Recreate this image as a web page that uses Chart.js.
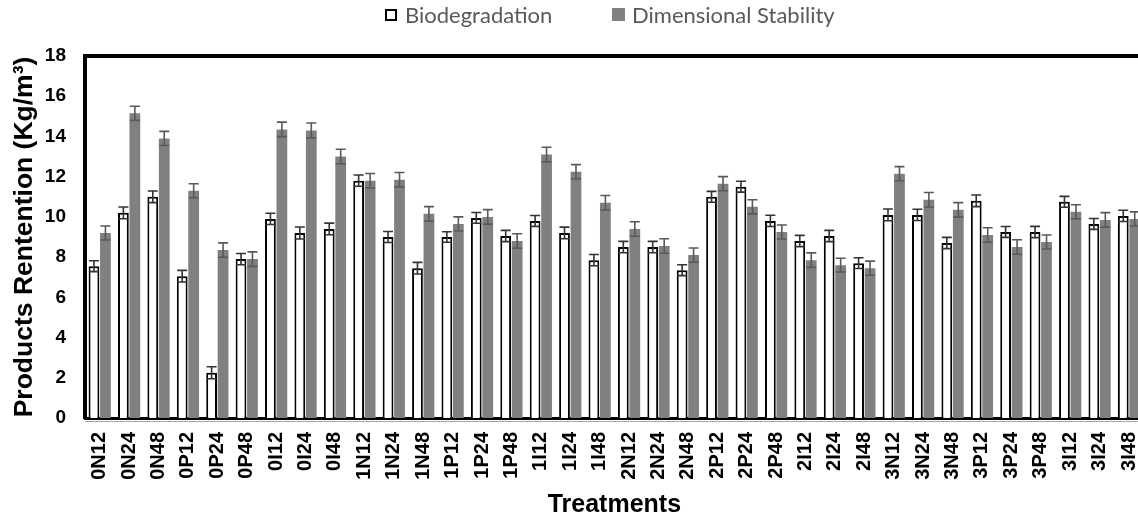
<!DOCTYPE html>
<html>
<head>
<meta charset="utf-8">
<script src="https://cdn.jsdelivr.net/npm/chart.js@4.4.1/dist/chart.umd.min.js"></script>
<style>
  html, body { margin: 0; padding: 0; background: #fff; overflow: hidden; }
  #wrap { position: relative; width: 1138px; height: 516px; overflow: hidden; }
  #legend { position: absolute; top: 0; left: 0; width: 100%; height: 30px; font-family: Lato, "Open Sans", sans-serif; font-size: 22px; color: #595959; }
  #legend .item { position: absolute; top: 1px; display: flex; align-items: center; white-space: nowrap; }
  #legend .box { display: inline-block; box-sizing: border-box; margin-right: 8px; }
</style>
</head>
<body>
<div id="wrap">
  <canvas id="chart" width="1167" height="516"></canvas>
  <div id="legend">
    <span class="item" style="left:385px"><span class="box" style="width:12px;height:12px;border:2px solid #000;background:#fff"></span>Biodegradation</span>
    <span class="item" style="left:612px"><span class="box" style="width:13px;height:13px;background:#808080;margin-right:7px"></span>Dimensional Stability</span>
  </div>
</div>
<script>
const $ = (id) => document.getElementById(id);

const treatments = [
  '0N12', '0N24', '0N48', '0P12', '0P24', '0P48', '0I12', '0I24', '0I48',
  '1N12', '1N24', '1N48', '1P12', '1P24', '1P48', '1I12', '1I24', '1I48',
  '2N12', '2N24', '2N48', '2P12', '2P24', '2P48', '2I12', '2I24', '2I48',
  '3N12', '3N24', '3N48', '3P12', '3P24', '3P48', '3I12', '3I24', '3I48'
];

const biodegradation = [
  7.55, 10.2, 11.0, 7.05, 2.25, 7.9, 9.9, 9.2, 9.4,
  11.8, 9.0, 7.45, 9.0, 9.95, 9.05, 9.8, 9.2, 7.85,
  8.5, 8.5, 7.35, 11.0, 11.5, 9.8, 8.8, 9.05, 7.7,
  10.1, 10.1, 8.7, 10.8, 9.25, 9.25, 10.75, 9.65, 10.05
];
const biodegradationErr = [
  0.27, 0.29, 0.29, 0.29, 0.30, 0.28, 0.28, 0.30, 0.29,
  0.28, 0.27, 0.29, 0.26, 0.27, 0.28, 0.27, 0.29, 0.28,
  0.28, 0.28, 0.27, 0.27, 0.27, 0.28, 0.28, 0.28, 0.27,
  0.29, 0.28, 0.28, 0.29, 0.27, 0.28, 0.27, 0.27, 0.28
];

const dimensional = [
  9.2, 15.15, 13.9, 11.3, 8.35, 7.9, 14.35, 14.3, 13.0,
  11.8, 11.85, 10.15, 9.65, 10.0, 8.8, 13.1, 12.25, 10.7,
  9.4, 8.55, 8.1, 11.65, 10.5, 9.25, 7.85, 7.6, 7.45,
  12.15, 10.85, 10.35, 9.1, 8.5, 8.75, 10.25, 9.85, 9.9
];
const dimensionalErr = [
  0.35, 0.35, 0.35, 0.35, 0.36, 0.36, 0.36, 0.37, 0.36,
  0.36, 0.36, 0.36, 0.35, 0.36, 0.36, 0.36, 0.35, 0.36,
  0.36, 0.36, 0.35, 0.35, 0.35, 0.35, 0.36, 0.34, 0.35,
  0.35, 0.36, 0.36, 0.36, 0.36, 0.35, 0.35, 0.36, 0.35
];

const yTicks = [0, 2, 4, 6, 8, 10, 12, 14, 16, 18];

const FONT = '"Liberation Sans", Arial, sans-serif';

// error bars: +/- err around each bar top, with caps
const errorBars = {
  id: 'errorBars',
  afterDatasetsDraw(chart) {
    const ctx = chart.ctx;
    const y = chart.scales.y;
    chart.data.datasets.forEach((ds, i) => {
      if (!ds.errors) return;
      const meta = chart.getDatasetMeta(i);
      ctx.save();
      ctx.strokeStyle = ds.errorColor;
      ctx.lineWidth = 1.6;
      meta.data.forEach((bar, j) => {
        const v = ds.data[j];
        const e = ds.errors[j];
        const top = y.getPixelForValue(v + e);
        const bot = y.getPixelForValue(v - e);
        const half = 5;
        ctx.beginPath();
        ctx.moveTo(bar.x, top);
        ctx.lineTo(bar.x, bot);
        ctx.moveTo(bar.x - half, top);
        ctx.lineTo(bar.x + half, top);
        ctx.moveTo(bar.x - half, bot);
        ctx.lineTo(bar.x + half, bot);
        ctx.stroke();
      });
      ctx.restore();
    });
  }
};

// thick frame on top of the plot area plus the thin grey rule under the axis
const plotFrame = {
  id: 'plotFrame',
  afterDraw(chart) {
    const { ctx, chartArea: a } = chart;
    ctx.save();
    ctx.strokeStyle = '#000';
    ctx.lineWidth = 4;
    ctx.beginPath();
    ctx.moveTo(a.left - 2, a.top);
    ctx.lineTo(a.right + 4, a.top);
    ctx.stroke();
    ctx.strokeStyle = '#a6a6a6';
    ctx.lineWidth = 1;
    ctx.beginPath();
    ctx.moveTo(a.left, a.bottom + 3.5);
    ctx.lineTo(a.right + 4, a.bottom + 3.5);
    ctx.stroke();
    ctx.restore();
  }
};

new Chart($('chart').getContext('2d'), {
  type: 'bar',
  data: {
    labels: treatments,
    datasets: [
      {
        label: 'Biodegradation',
        data: biodegradation,
        errors: biodegradationErr,
        errorColor: '#333333',
        backgroundColor: '#ffffff',
        borderColor: '#000000',
        borderWidth: 2,
        categoryPercentage: 0.78,
        barPercentage: 0.94
      },
      {
        label: 'Dimensional Stability',
        data: dimensional,
        errors: dimensionalErr,
        errorColor: '#595959',
        backgroundColor: '#808080',
        borderWidth: 0,
        categoryPercentage: 0.78,
        barPercentage: 0.94
      }
    ]
  },
  options: {
    responsive: false,
    animation: false,
    layout: { padding: { top: 56, right: 0, left: 0, bottom: 0 } },
    plugins: {
      legend: { display: false },
      tooltip: { enabled: false }
    },
    scales: {
      x: {
        grid: { display: false, drawTicks: false },
        border: { color: '#000', width: 3 },
        ticks: {
          color: '#000',
          font: { family: FONT, size: 20, weight: 'bold' },
          minRotation: 90,
          maxRotation: 90,
          autoSkip: false,
          padding: 14
        },
        title: {
          display: true,
          text: 'Treatments',
          color: '#000',
          font: { family: FONT, size: 25, weight: 'bold', lineHeight: 1 },
          padding: { top: 0, bottom: -2 }
        },
        afterFit: (s) => { s.height = 98; }
      },
      y: {
        min: 0,
        max: 18,
        afterBuildTicks: (s) => { s.ticks = yTicks.map(v => ({ value: v })); },
        grid: { display: false, drawTicks: false },
        border: { color: '#000', width: 4 },
        ticks: {
          color: '#000',
          font: { family: FONT, size: 19, weight: 'bold' },
          padding: 19
        },
        title: {
          display: true,
          text: 'Products Rentention (Kg/m³)',
          color: '#000',
          font: { family: FONT, size: 26.5, weight: 'bold', lineHeight: 1 },
          padding: { top: 11, bottom: 0 }
        },
        afterFit: (s) => { s.width = 85; }
      }
    }
  },
  plugins: [errorBars, plotFrame]
});
</script>
</body>
</html>
